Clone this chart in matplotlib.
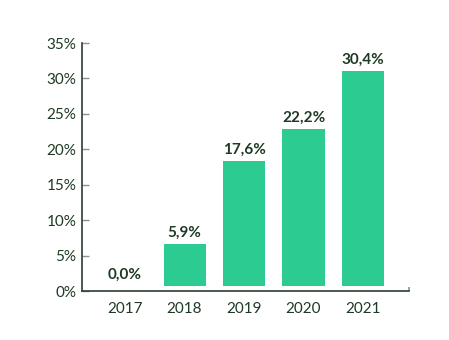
import matplotlib
matplotlib.use("Agg")
import matplotlib.pyplot as plt
import matplotlib.transforms as mtransforms
from matplotlib.ticker import MultipleLocator, FuncFormatter

years = ["2017", "2018", "2019", "2020", "2021"]
shares = [0.0, 5.9, 17.6, 22.2, 30.4]

BAR_COLOR = "#2bcb92"
TEXT_COLOR = "#1f3a24"
AXIS_COLOR = "#2b3d30"
TICK_COLOR = "#8a948c"

plt.rcParams["font.family"] = ["Lato", "DejaVu Sans"]

fig = plt.figure(figsize=(4.49, 3.40), dpi=100)
ax = fig.add_axes([0.1826, 0.144, 0.7283, 0.7295])

x = list(range(len(years)))
# bars sit slightly above the baseline
lift = mtransforms.ScaledTranslation(0, 5 / 100, fig.dpi_scale_trans)
bars = ax.bar(x, shares, width=0.706, color=BAR_COLOR, linewidth=0,
              transform=ax.transData + lift)

for xi, v in zip(x, shares):
    ax.annotate(f"{v:.1f}%".replace(".", ","), xy=(xi, v),
                xycoords=ax.transData + lift,
                xytext=(0, 3), textcoords="offset points",
                ha="center", va="bottom", fontsize=11, fontweight="bold",
                color=TEXT_COLOR)

ax.set_xlim(-0.723, 4.773)
ax.set_ylim(0, 35)
ax.yaxis.set_major_locator(MultipleLocator(5))
ax.yaxis.set_major_formatter(FuncFormatter(lambda v, _: f"{v:.0f}%"))
ax.set_xticks(x)
ax.set_xticklabels(years)

for side in ("top", "right"):
    ax.spines[side].set_visible(False)
for side in ("left", "bottom"):
    ax.spines[side].set_color(AXIS_COLOR)
    ax.spines[side].set_linewidth(1.2)

ax.tick_params(axis="y", direction="in", length=5, width=1, color=TICK_COLOR,
               labelsize=11, labelcolor=TEXT_COLOR, pad=4)
ax.tick_params(axis="x", length=0, labelsize=11, labelcolor=TEXT_COLOR, pad=8)

# small closing tick at the right end of the baseline
ax.plot([4.773, 4.773], [0, 0.55], color=TICK_COLOR, linewidth=1.2,
        clip_on=False, solid_capstyle="butt")

fig.savefig("out.png", dpi=100, facecolor="white")
